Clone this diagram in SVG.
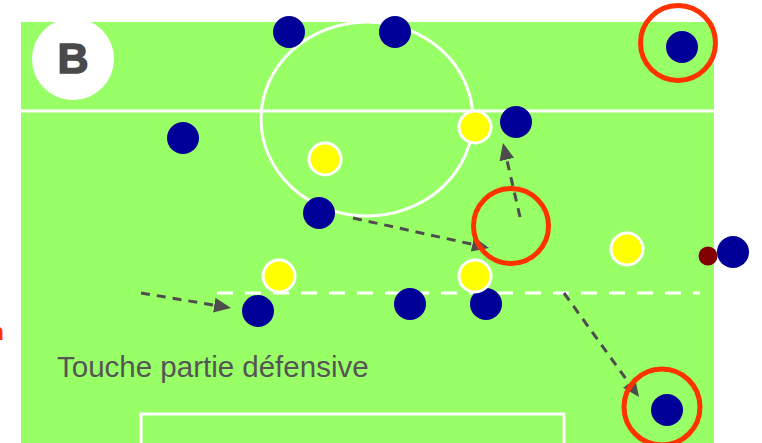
<svg xmlns="http://www.w3.org/2000/svg" width="762" height="443" viewBox="0 0 762 443">
<defs>
<style>
.line{stroke:#ffffff;stroke-width:3;fill:none}
.navy{fill:#000099}
.yellow{fill:#ffff00;stroke:#ffffff;stroke-width:3}
.ring{fill:none;stroke:#ff3300;stroke-width:5}
.move{fill:none;stroke:#4d4d4d;stroke-width:3;stroke-dasharray:9 7}
</style>
<marker id="ah" viewBox="0 0 17 15" refX="13" refY="7.5" markerWidth="17" markerHeight="15" markerUnits="userSpaceOnUse" orient="auto">
<path d="M0,0 L17,7.5 L0,15 z" fill="#4d4d4d"/>
</marker>
</defs>
<rect width="762" height="443" fill="#ffffff"/>
<g id="field">
<rect x="21" y="22" width="693" height="421" fill="#99ff66"/>
<line class="line" x1="21" y1="111" x2="714" y2="111"/>
<ellipse class="line" cx="367" cy="119" rx="106" ry="97"/>
<line class="line" x1="217" y1="293" x2="700" y2="293" stroke-dasharray="16 12"/>
<rect class="line" x="141" y="414" width="423" height="40"/>
</g>
<g id="badge">
<circle cx="73" cy="59" r="41" fill="#ffffff"/>
<text x="73" y="73" text-anchor="middle" font-family="'Liberation Sans', Arial, sans-serif" font-weight="bold" font-size="43" fill="#4a4a4a" stroke="#4a4a4a" stroke-width="1.5">B</text>
</g>
<text id="edge-text" x="4" y="340" text-anchor="end" font-family="'Liberation Sans', Arial, sans-serif" font-weight="bold" font-size="24" fill="#ff3300">n</text>
<text id="caption" x="57" y="377" font-family="'Liberation Sans', Arial, sans-serif" font-size="29.5" fill="#555555">Touche partie défensive</text>
<g id="connectors">
<path class="move" d="M141,293 L227.1,307.3" marker-end="url(#ah)"/>
<path class="move" d="M353,218 L485.1,247.1" marker-end="url(#ah)"/>
<path class="move" d="M520,217 L503.9,146.9" marker-end="url(#ah)"/>
<path class="move" d="M564,293 L636.7,393.8" marker-end="url(#ah)"/>
</g>
<g id="players-blue">
<circle id="b1" class="navy" cx="289" cy="32" r="16"/>
<circle id="b2" class="navy" cx="395" cy="32" r="16"/>
<circle id="b3" class="navy" cx="682" cy="47" r="16"/>
<circle id="b4" class="navy" cx="183" cy="138" r="16"/>
<circle id="b5" class="navy" cx="516" cy="122" r="16"/>
<circle id="b6" class="navy" cx="319" cy="213" r="16"/>
<circle id="b7" class="navy" cx="258" cy="311" r="16"/>
<circle id="b8" class="navy" cx="410" cy="304" r="16"/>
<circle id="b9" class="navy" cx="486" cy="304" r="16"/>
<circle id="b10" class="navy" cx="733" cy="252" r="16"/>
<circle id="b11" class="navy" cx="667" cy="410" r="16"/>
</g>
<g id="players-yellow">
<circle id="y1" class="yellow" cx="475" cy="127" r="16"/>
<circle id="y2" class="yellow" cx="325" cy="159" r="16"/>
<circle id="y3" class="yellow" cx="279" cy="276" r="16"/>
<circle id="y4" class="yellow" cx="475" cy="276" r="16"/>
<circle id="y5" class="yellow" cx="627" cy="249" r="16"/>
</g>
<g id="ball">
<circle cx="708" cy="256" r="9.5" fill="#800000"/>
</g>
<g id="rings">
<circle id="r1" class="ring" cx="678" cy="43" r="37.5"/>
<circle id="r2" class="ring" cx="511" cy="226" r="37.5"/>
<circle id="r3" class="ring" cx="662" cy="407" r="38"/>
</g>
</svg>
